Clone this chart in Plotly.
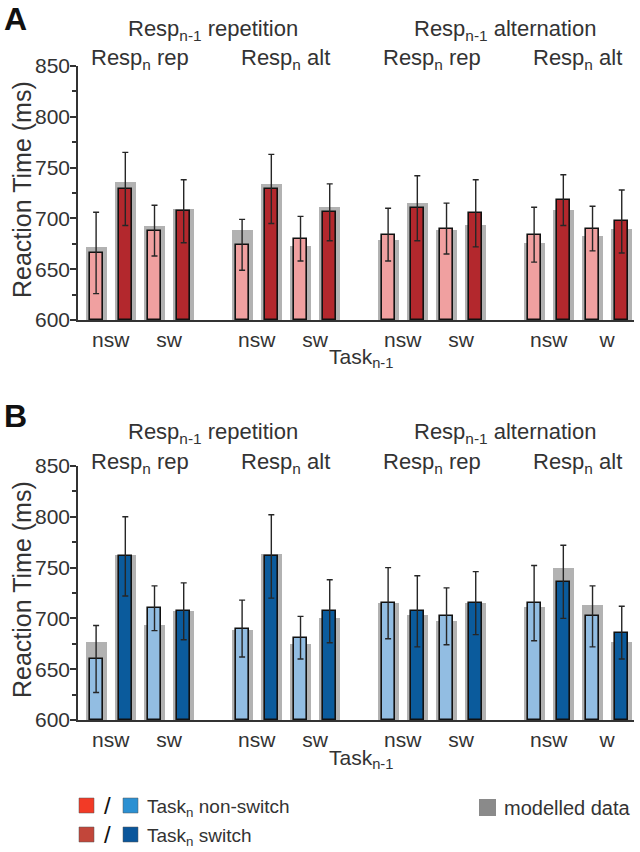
import plotly.graph_objects as go

# Task(n-1) level under each pair of bars, 4 groups x 2 pairs
task_prev = ["nsw", "sw", "nsw", "sw", "nsw", "sw", "nsw", "w"]
groups_top = ["Resp<sub>n-1</sub> repetition", "Resp<sub>n-1</sub> alternation"]
groups_sub = ["Resp<sub>n</sub> rep", "Resp<sub>n</sub> alt", "Resp<sub>n</sub> rep", "Resp<sub>n</sub> alt"]

# panel A (red)
a_nonswitch = [666, 688, 674, 680, 684, 690, 684, 690]
a_nonswitch_err = [40, 25, 25, 22, 26, 25, 27, 22]
a_switch = [729, 707, 729, 706, 710, 705, 718, 697]
a_switch_err = [36, 31, 34, 28, 32, 33, 25, 31]
a_model_nonswitch = [672, 693, 689, 673, 679, 689, 676, 683]
a_model_switch = [736, 709, 734, 711, 715, 694, 708, 690]

# panel B (blue)
b_nonswitch = [660, 710, 690, 681, 715, 702, 715, 702]
b_nonswitch_err = [33, 22, 28, 21, 35, 28, 37, 30]
b_switch = [761, 707, 761, 707, 707, 715, 736, 686]
b_switch_err = [39, 28, 41, 31, 35, 31, 36, 26]
b_model_nonswitch = [677, 694, 689, 675, 715, 697, 711, 713]
b_model_switch = [762, 707, 763, 700, 703, 715, 750, 677]

FONT = "Liberation Sans, Arial, sans-serif"
TXT = "#333333"
W, H = 640, 852
BASE = 600

# slot positions: 4 groups of 2 pairs, one empty slot between groups
pair_x = [(i // 2) * 5 + (i % 2) * 2 for i in range(8)]
x_ns = list(pair_x)
x_sw = [p + 1 for p in pair_x]
pair_mid = [p + 0.5 for p in pair_x]
group_mid = [i * 5 + 1.5 for i in range(4)]


def err(vals):
    return dict(type="data", array=vals, visible=True, color="#262626", thickness=1.4, width=3)


def heights(vals):
    return [v - BASE for v in vals]


fig = go.Figure()

panels = [
    ("x", "y", a_nonswitch, a_nonswitch_err, a_switch, a_switch_err, a_model_nonswitch, a_model_switch,
     "#f0a0a0", "#b3282d"),
    ("x2", "y2", b_nonswitch, b_nonswitch_err, b_switch, b_switch_err, b_model_nonswitch, b_model_switch,
     "#92bde2", "#0b5b9c"),
]

for xa, ya, ns, ns_e, sw, sw_e, m_ns, m_sw, c_light, c_dark in panels:
    fig.add_trace(go.Bar(x=x_ns + x_sw, y=heights(m_ns + m_sw), width=0.72, base=BASE,
                         marker=dict(color="#b2b2b2", line=dict(width=0)),
                         xaxis=xa, yaxis=ya, showlegend=False))
    fig.add_trace(go.Bar(x=x_ns, y=heights(ns), base=BASE, width=0.44,
                         marker=dict(color=c_light, line=dict(color="#111111", width=1.6)),
                         error_y=err(ns_e), xaxis=xa, yaxis=ya, showlegend=False))
    fig.add_trace(go.Bar(x=x_sw, y=heights(sw), base=BASE, width=0.44,
                         marker=dict(color=c_dark, line=dict(color="#111111", width=1.6)),
                         error_y=err(sw_e), xaxis=xa, yaxis=ya, showlegend=False))

x0, x1 = 78 / W, 634 / W
xrange = [-0.62, 18.42]
yax = dict(range=[600, 850], tickvals=[600, 650, 700, 750, 800, 850], ticks="outside", ticklen=6,
           tickwidth=1.5, tickcolor="#333", showline=True, linecolor="#333", linewidth=1.5,
           showgrid=False, zeroline=False, automargin=False, ticklabelstandoff=-4,
           minor=dict(dtick=25, ticks="outside", ticklen=4, tickcolor="#333"),
           tickfont=dict(size=21, color=TXT, family=FONT))
xax = dict(range=xrange, tickvals=pair_mid, ticktext=task_prev, ticks="", showline=True,
           linecolor="#333", linewidth=1.5, showgrid=False, zeroline=False, automargin=False,
           tickfont=dict(size=21, color=TXT, family=FONT))

fig.update_layout(
    width=W, height=H, autosize=False, margin=dict(l=0, r=0, t=0, b=0, pad=0),
    paper_bgcolor="white", plot_bgcolor="white", barmode="overlay", bargap=0,
    xaxis=dict(xax, domain=[x0, x1], anchor="y"),
    yaxis=dict(yax, domain=[1 - 320 / H, 1 - 66 / H], anchor="x"),
    xaxis2=dict(xax, domain=[x0, x1], anchor="y2"),
    yaxis2=dict(yax, domain=[1 - 720 / H, 1 - 466 / H], anchor="x2"),
    font=dict(family=FONT, color=TXT),
)


def note(x, y, text, size, xref="paper", xanchor="center", color=TXT, angle=0):
    return dict(x=x, xref=xref, y=1 - y / H, yref="paper", text=text, showarrow=False,
                xanchor=xanchor, yanchor="middle", textangle=angle,
                font=dict(size=size, color=color, family=FONT))


ann = []
for xa, top_y, sub_y, task_y, ytitle_y, letter, letter_y in [
        ("x", 30, 59, 358, 190, "A", 19), ("x2", 433, 463, 759, 590, "B", 416)]:
    for i, t in enumerate(groups_top):
        ann.append(note((group_mid[2 * i] + group_mid[2 * i + 1]) / 2, top_y, t, 22, xref=xa))
    for i, t in enumerate(groups_sub):
        ann.append(note(group_mid[i], sub_y, t, 22, xref=xa))
    ann.append(note(361 / W, task_y, "Task<sub>n-1</sub>", 21))
    ann.append(note(22 / W, ytitle_y, "Reaction Time (ms)", 25, angle=-90))
    ann.append(note(15 / W, letter_y, "<b>" + letter + "</b>", 32, color="#111"))

# legend
legend_rows = [("#f23a26", "#2b90d2", "Task<sub>n</sub> non-switch", 805.5),
               ("#c2463a", "#0a569b", "Task<sub>n</sub> switch", 834.5)]
shapes = []
for c_red, c_blue, label, yc in legend_rows:
    for xl, col in [(79, c_red), (123, c_blue)]:
        shapes.append(dict(type="rect", xref="paper", yref="paper", x0=xl / W, x1=(xl + 15) / W,
                           y0=1 - (yc + 7.5) / H, y1=1 - (yc - 7.5) / H, fillcolor=col,
                           line=dict(color="#555", width=0.5)))
    ann.append(note(107 / W, yc, "/", 24, color="#111"))
    ann.append(note(145 / W, yc + 2, label, 19, xanchor="left"))
shapes.append(dict(type="rect", xref="paper", yref="paper", x0=479 / W, x1=496 / W,
                   y0=1 - 816 / H, y1=1 - 799 / H, fillcolor="#8a8a8a", line=dict(width=0)))
ann.append(note(502 / W, 808, "modelled data", 20, xanchor="left"))

fig.update_layout(annotations=ann, shapes=shapes)
fig.write_html("out.html", config={"displayModeBar": False},
               post_script="document.body.style.margin='0px';")
